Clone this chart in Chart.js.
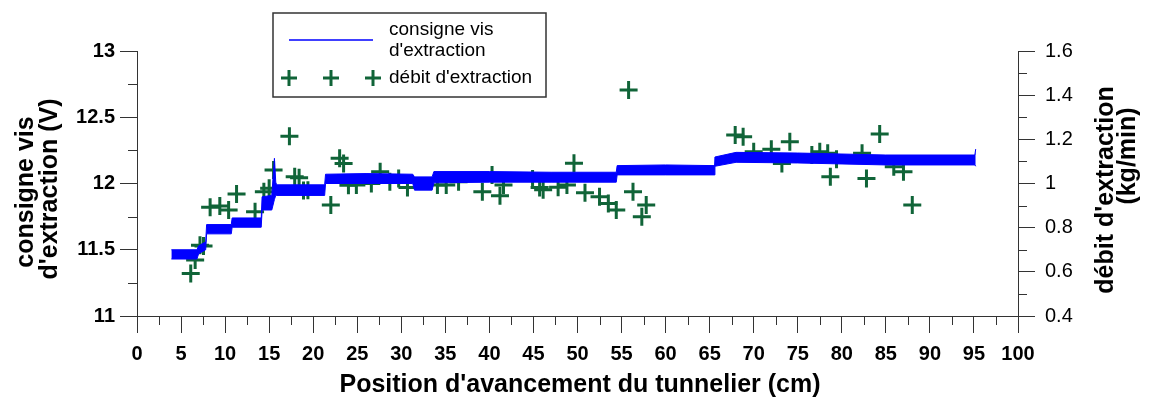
<!DOCTYPE html>
<html><head><meta charset="utf-8">
<script src="https://cdn.jsdelivr.net/npm/chart.js@4/dist/chart.umd.min.js"></script>
<style>html,body{margin:0;padding:0;background:#fff;}canvas{display:block}</style>
</head><body>
<canvas id="c" width="1151" height="404"></canvas>
<script>
// ---- Data ----
const consigneX    = [3.9, 6.8, 7.0, 7.8, 7.9, 10.7, 10.8, 14.1, 14.2, 15.3, 15.6, 15.75, 15.85, 21.3, 21.4, 26.0, 31.3, 31.5, 33.5, 33.7, 40.0, 47.0, 54.4, 54.5, 60.0, 65.5, 65.6, 68.0, 75.0, 85.0, 95.1, 95.2];
const consigneHaut = [11.50, 11.50, 11.53, 11.56, 11.69, 11.69, 11.74, 11.74, 11.90, 11.91, 12.19, 12.01, 11.99, 11.99, 12.07, 12.075, 12.07, 12.05, 12.05, 12.09, 12.09, 12.085, 12.085, 12.135, 12.14, 12.135, 12.20, 12.235, 12.23, 12.215, 12.215, 12.26];
const consigneBas  = [11.43, 11.43, 11.47, 11.50, 11.62, 11.62, 11.67, 11.67, 11.80, 11.80, 11.88, 11.91, 11.91, 11.91, 12.00, 12.00, 12.00, 11.95, 11.95, 12.005, 12.01, 12.01, 12.01, 12.065, 12.065, 12.065, 12.13, 12.16, 12.155, 12.14, 12.14, 12.13];
const debitX = [6.1, 6.6, 7.15, 7.55, 8.3, 9.4, 10.4, 11.3, 13.4, 14.4, 15.0, 15.5, 17.3, 17.9, 18.4, 18.9, 19.4, 22.0, 23.0, 23.45, 24.0, 24.9, 26.6, 27.6, 28.7, 29.7, 30.7, 34.1, 35.1, 36.5, 39.2, 40.3, 41.2, 41.6, 44.9, 45.7, 46.1, 47.8, 48.8, 49.6, 50.85, 52.5, 53.5, 54.4, 55.8, 56.3, 57.3, 57.8, 67.9, 68.8, 70.0, 72.0, 73.2, 74.1, 76.6, 77.5, 78.4, 78.7, 79.4, 82.3, 82.8, 84.3, 85.9, 87.0, 88.0];
const debitY = [0.593, 0.654, 0.720, 0.717, 0.892, 0.898, 0.880, 0.952, 0.872, 0.963, 0.978, 1.061, 1.214, 1.031, 1.026, 0.968, 0.970, 0.903, 1.114, 1.091, 0.992, 0.993, 1.000, 1.053, 1.008, 1.023, 0.982, 0.993, 0.993, 1.008, 0.963, 1.038, 0.945, 0.993, 1.020, 0.982, 0.972, 0.983, 0.993, 1.092, 0.958, 0.940, 0.910, 0.880, 1.423, 0.963, 0.850, 0.903, 1.220, 1.212, 1.144, 1.155, 1.091, 1.189, 1.129, 1.144, 1.137, 1.031, 1.110, 1.137, 1.023, 1.224, 1.076, 1.053, 0.903];
const xTicks = [0,5,10,15,20,25,30,35,40,45,50,55,60,65,70,75,80,85,90,95,100];
const xMinor = [2.5,7.5,12.5,17.5,22.5,27.5,32.5,37.5,42.5,47.5,52.5,57.5,62.5,67.5,72.5,77.5,82.5,87.5,92.5,97.5];
const yTicks = [11, 11.5, 12, 12.5, 13];
const yTickLabels = ['11','11.5','12','12.5','13'];
const yMinor = [11.25, 11.75, 12.25, 12.75];
const y2Ticks = [0.4, 0.6, 0.8, 1.0, 1.2, 1.4, 1.6];
const y2TickLabels = ['0.4','0.6','0.8','1','1.2','1.4','1.6'];
const y2Minor = [0.5, 0.7, 0.9, 1.1, 1.3, 1.5];
const xTitle = "Position d'avancement du tunnelier (cm)";
const yTitle = ['consigne vis', "d'extraction (V)"];
const y2Title = ["débit d'extraction", '(kg/min)'];
const legendLabels = ['consigne vis', "d'extraction", "débit d'extraction"];

// ---- Style ----
const FONT = "'Liberation Sans', Arial, Helvetica, sans-serif";
const AXIS = '#333333';
const BLUE = '#0000ff';
const GREEN = '#106438';

const decor = {
  id: 'decor',
  afterDraw(chart) {
    const ctx = chart.ctx;
    const ca = chart.chartArea;
    const sx = chart.scales.x, sy = chart.scales.y, sy2 = chart.scales.y2;
    ctx.save();
    // minor ticks
    ctx.strokeStyle = AXIS; ctx.lineWidth = 1;
    ctx.beginPath();
    xMinor.forEach(v => { const p = Math.round(sx.getPixelForValue(v)) + 0.5; ctx.moveTo(p, ca.bottom); ctx.lineTo(p, ca.bottom + 9); });
    yMinor.forEach(v => { const p = Math.round(sy.getPixelForValue(v)) + 0.5; ctx.moveTo(ca.left, p); ctx.lineTo(ca.left - 9, p); });
    y2Minor.forEach(v => { const p = Math.round(sy2.getPixelForValue(v)) + 0.5; ctx.moveTo(ca.right, p); ctx.lineTo(ca.right + 9, p); });
    ctx.stroke();

    // axis titles
    ctx.fillStyle = '#000';
    ctx.font = 'bold 25px ' + FONT;
    ctx.textAlign = 'center'; ctx.textBaseline = 'middle';
    ctx.fillText(xTitle, 580, 385);
    const rot = (text, x, y) => { ctx.save(); ctx.translate(x, y); ctx.rotate(-Math.PI / 2); ctx.fillText(text, 0, 0); ctx.restore(); };
    rot(yTitle[0], 26, 192);
    rot(yTitle[1], 50, 189);
    rot(y2Title[0], 1106, 190);
    rot(y2Title[1], 1128, 156);

    // legend
    ctx.fillStyle = '#fff';
    ctx.fillRect(273, 13, 273, 84);
    ctx.strokeStyle = '#333'; ctx.lineWidth = 1.5;
    ctx.strokeRect(273, 13, 273, 84);
    ctx.strokeStyle = BLUE; ctx.lineWidth = 1.5;
    ctx.beginPath(); ctx.moveTo(289, 40); ctx.lineTo(373, 40); ctx.stroke();
    ctx.strokeStyle = GREEN; ctx.lineWidth = 3;
    [289, 331, 373].forEach(cx => {
      ctx.beginPath(); ctx.moveTo(cx - 8, 78); ctx.lineTo(cx + 8, 78); ctx.moveTo(cx, 70); ctx.lineTo(cx, 86); ctx.stroke();
    });
    ctx.fillStyle = '#000';
    ctx.font = '19px ' + FONT;
    ctx.textAlign = 'left';
    ctx.fillText(legendLabels[0], 389, 30);
    ctx.fillText(legendLabels[1], 389, 51);
    ctx.fillText(legendLabels[2], 389, 78);
    ctx.restore();
  }
};

const ctx = document.getElementById('c').getContext('2d');
new Chart(ctx, {
  type: 'line',
  data: {
    datasets: [
      { label: 'haut', data: consigneX.map((x, i) => ({ x, y: consigneHaut[i] })), yAxisID: 'y',
        borderColor: BLUE, borderWidth: 1, pointRadius: 0, fill: false, tension: 0 },
      { label: 'bas', data: consigneX.map((x, i) => ({ x, y: consigneBas[i] })), yAxisID: 'y',
        borderColor: BLUE, borderWidth: 1, pointRadius: 0, fill: '-1', backgroundColor: BLUE, tension: 0 },
      { type: 'scatter', label: "débit d'extraction", data: debitX.map((x, i) => ({ x, y: debitY[i] })), yAxisID: 'y2',
        pointStyle: 'cross', pointRadius: 9, borderColor: GREEN, backgroundColor: GREEN, borderWidth: 3, showLine: false }
    ]
  },
  options: {
    responsive: false, animation: false, devicePixelRatio: 1,
    layout: { padding: { top: 51, left: 0, right: 0, bottom: 0 } },
    plugins: { legend: { display: false }, tooltip: { enabled: false } },
    scales: {
      x: {
        type: 'linear', min: 0, max: 100,
        afterBuildTicks: s => { s.ticks = xTicks.map(v => ({ value: v })); },
        afterFit: s => { s.height = 88; },
        grid: { drawOnChartArea: false, drawTicks: true, tickLength: 17, color: AXIS, lineWidth: 1 },
        border: { display: true, color: AXIS, width: 1 },
        ticks: { font: { family: FONT, size: 20, weight: 'bold' }, color: '#000', padding: 9, maxRotation: 0, autoSkip: false }
      },
      y: {
        type: 'linear', position: 'left', min: 11, max: 13,
        afterBuildTicks: s => { s.ticks = yTicks.map(v => ({ value: v })); },
        afterFit: s => { s.width = 137; },
        grid: { drawOnChartArea: false, drawTicks: true, tickLength: 17, color: AXIS, lineWidth: 1 },
        border: { display: true, color: AXIS, width: 1 },
        ticks: { font: { family: FONT, size: 20, weight: 'bold' }, color: '#000', padding: 5,
          callback: (v, i) => yTickLabels[i] }
      },
      y2: {
        type: 'linear', position: 'right', min: 0.4, max: 1.6,
        afterBuildTicks: s => { s.ticks = y2Ticks.map(v => ({ value: v })); },
        afterFit: s => { s.width = 133; },
        grid: { drawOnChartArea: false, drawTicks: true, tickLength: 17, color: AXIS, lineWidth: 1 },
        border: { display: true, color: AXIS, width: 1 },
        ticks: { font: { family: FONT, size: 20 }, color: '#000', padding: 10,
          callback: (v, i) => y2TickLabels[i] }
      }
    }
  },
  plugins: [decor]
});
</script>
</body></html>
